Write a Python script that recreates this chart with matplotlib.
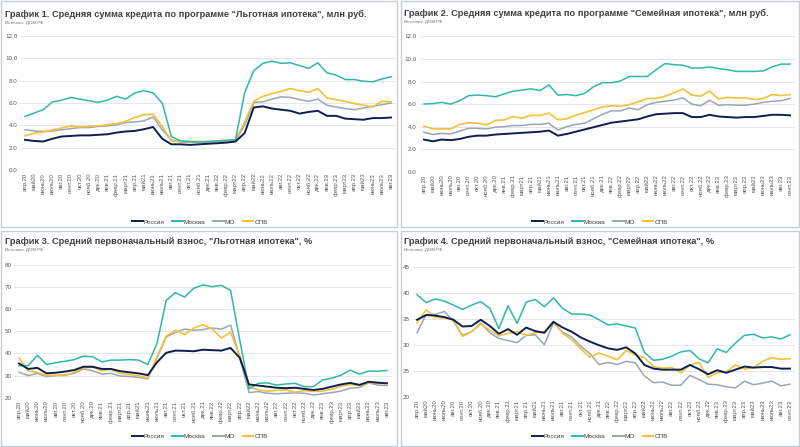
import matplotlib
matplotlib.use("Agg")
import matplotlib.pyplot as plt
from matplotlib.patches import Rectangle
from matplotlib.lines import Line2D

plt.rcParams['font.family'] = ['Liberation Sans', 'DejaVu Sans']

months_a = ["апр.20", "май20", "июнь20", "июль20", "авг.20", "сент.20", "окт.20", "нояб.20", "дек.20",
            "янв.21", "февр.21", "март21", "апр.21", "май21", "июнь21", "июль21", "авг.21", "сент.21",
            "окт.21", "нояб.21", "дек.21", "янв.22", "февр.22", "март22", "апр.22", "май22", "июнь22",
            "июль22", "авг.22", "сент.22", "окт.22", "нояб.22", "дек.22", "янв.23", "февр.23", "март23",
            "апр.23", "май23", "июнь23", "июль23", "авг.23"]
months_b = months_a + ["сент.23"]

series_names = ["Россия", "Москва", "МО", "СПБ"]
colors = ["#0f1f4f", "#2fb8aa", "#9aa6b4", "#f3c13a"]

# Chart 1: average loan, "Льготная ипотека", mln rub
c1_russia = [2.7, 2.6, 2.55, 2.8, 3.0, 3.05, 3.1, 3.1, 3.15, 3.2, 3.35, 3.45, 3.5, 3.65, 3.85, 2.8, 2.3, 2.3, 2.25, 2.3,
             2.35, 2.4, 2.45, 2.55, 3.3, 5.6, 5.7, 5.5, 5.4, 5.3, 5.05, 5.2, 5.3, 4.85, 4.85, 4.6, 4.55, 4.5, 4.65, 4.65, 4.7]
c1_moscow = [4.8, 5.1, 5.4, 6.1, 6.25, 6.5, 6.35, 6.2, 6.05, 6.25, 6.6, 6.35, 6.9, 7.1, 6.9, 6.0, 3.0, 2.6, 2.55, 2.5,
             2.55, 2.6, 2.65, 2.7, 6.9, 8.9, 9.55, 9.75, 9.55, 9.6, 9.35, 9.1, 9.6, 8.7, 8.5, 8.1, 8.1, 7.95, 7.9, 8.15, 8.35]
c1_mo = [3.6, 3.5, 3.45, 3.5, 3.6, 3.7, 3.8, 3.8, 3.9, 3.95, 4.05, 4.25, 4.3, 4.4, 4.75, 3.6, 2.7, 2.5, 2.5, 2.5,
         2.5, 2.55, 2.6, 2.65, 4.0, 6.05, 6.1, 6.35, 6.55, 6.5, 6.3, 6.15, 6.35, 5.8, 5.65, 5.5, 5.4, 5.55, 5.7, 5.85, 6.0]
c1_spb = [3.05, 3.3, 3.4, 3.6, 3.75, 3.95, 3.85, 3.9, 3.95, 4.05, 4.15, 4.35, 4.7, 4.95, 5.0, 3.9, 2.6, 2.55, 2.55, 2.55,
          2.55, 2.6, 2.65, 2.7, 4.3, 6.15, 6.6, 6.85, 7.05, 7.3, 7.1, 6.95, 7.3, 6.45, 6.3, 6.15, 5.95, 5.8, 5.65, 6.15, 6.1]

# Chart 2: average loan, "Семейная ипотека", mln rub
c2_russia = [2.85, 2.7, 2.85, 2.8, 2.9, 3.1, 3.2, 3.2, 3.3, 3.35, 3.4, 3.45, 3.5, 3.55, 3.65, 3.2, 3.35, 3.55, 3.75, 3.95,
             4.15, 4.35, 4.45, 4.55, 4.65, 4.9, 5.1, 5.15, 5.2, 5.2, 4.85, 4.85, 5.05, 4.9, 4.85, 4.8, 4.85, 4.85, 4.95,
             5.05, 5.05, 5.0]
c2_moscow = [6.0, 6.05, 6.15, 6.0, 6.3, 6.75, 6.8, 6.75, 6.65, 6.9, 7.15, 7.25, 7.35, 7.2, 7.7, 6.8, 6.85, 6.75, 6.95, 7.55,
             7.9, 7.9, 8.05, 8.45, 8.45, 8.45, 9.05, 9.6, 9.5, 9.45, 9.2, 9.2, 9.3, 9.15, 9.05, 8.9, 8.9, 8.9, 8.95,
             9.3, 9.55, 9.55]
c2_mo = [3.5, 3.3, 3.4, 3.35, 3.6, 3.85, 3.85, 3.8, 3.95, 4.0, 4.1, 4.1, 4.2, 4.2, 4.3, 3.7, 4.0, 4.2, 4.3, 4.7,
         5.1, 5.4, 5.4, 5.65, 5.5, 5.95, 6.15, 6.25, 6.35, 6.55, 6.0, 5.85, 6.35, 5.9, 5.95, 5.9, 5.9, 6.0, 6.15,
         6.25, 6.3, 6.5]
c2_spb = [4.05, 3.8, 3.8, 3.8, 4.2, 4.35, 4.3, 4.15, 4.55, 4.6, 4.9, 4.75, 5.0, 5.0, 5.2, 4.6, 4.7, 5.0, 5.25, 5.5,
          5.75, 5.85, 5.8, 5.95, 6.2, 6.5, 6.5, 6.7, 7.0, 7.35, 6.8, 6.7, 7.15, 6.45, 6.6, 6.55, 6.55, 6.4, 6.5,
          6.85, 6.75, 6.85]

# Chart 3: average down payment, "Льготная ипотека", %
c3_russia = [35.5, 33, 33.5, 31, 31.3, 31.8, 32.5, 34, 34, 33, 33, 32, 31.5, 31, 30.2, 36, 40.3, 41.3, 41.2, 41,
             41.7, 41.5, 41.3, 42.5, 38, 26, 25.5, 25, 24.5, 24.3, 24.5, 24, 23.5, 24, 25, 26, 26.7, 25.8, 27.2, 26.8, 26.5]
c3_moscow = [34.5, 34.5, 39.2, 35, 35.8, 36.5, 37.2, 38.8, 38.5, 36.2, 37, 37, 37.2, 37, 35, 44.5, 64, 67.5, 65.5, 69.5,
             71, 70.2, 70.8, 68.5, 46, 24, 26.5, 26.7, 25.7, 26.2, 26.5, 25, 25, 28, 28.8, 30.2, 32.5, 30.7, 32, 32, 32.3]
c3_mo = [31.5, 30, 31, 29.5, 30, 30.3, 31, 33, 32.2, 30.7, 31, 29.8, 29.6, 29.2, 28.5, 38, 47.5, 49.5, 51, 50.5,
         50.8, 51.5, 51, 52.8, 38, 22.3, 22.8, 22, 21.8, 22, 22.2, 22, 21.2, 21.8, 22.3, 23, 24.3, 24.6, 26.7, 25.7, 25.5]
c3_spb = [38, 32, 31.5, 30, 30.2, 30, 31.5, 33.5, 33.8, 32.2, 32.8, 31, 30.5, 30, 28.8, 38.5, 47.8, 50.5, 48.5, 51.5,
          53, 51, 47, 49.5, 39, 25, 23.5, 23, 23.3, 23.5, 22.5, 23.2, 22.8, 23, 23.8, 25.2, 26, 25.5, 26.8, 26.5, 26.5]

# Chart 4: average down payment, "Семейная ипотека", %
c4_russia = [34.8, 35.7, 35.6, 35.3, 34.8, 33.5, 33.6, 34.8, 33.6, 32.1, 33.0, 31.9, 33.3, 32.6, 32.3, 34.4, 33.3, 32.5,
             31.4, 30.6, 29.9, 29.3, 29.0, 29.5, 28.3, 26.1, 25.4, 25.2, 25.2, 25.2, 26.1, 25.3, 24.3, 25.1, 24.6, 25.2,
             25.8, 25.6, 25.7, 25.7, 25.4, 25.4]
c4_moscow = [39.6, 38.1, 38.8, 38.4, 37.6, 36.8, 37.6, 38.3, 37.0, 33.1, 37.5, 34.1, 38.2, 38.7, 37.3, 39.0, 37.0, 35.9,
             35.9, 35.7, 34.8, 33.8, 34.0, 33.6, 33.2, 28.5, 27.0, 27.2, 27.8, 28.6, 28.9, 27.3, 26.5, 29.2, 28.5, 30.3,
             31.8, 32.0, 31.3, 31.5, 31.1, 31.9]
c4_mo = [32.3, 35.8, 35.8, 36.4, 34.5, 31.8, 32.5, 34.2, 32.3, 31.2, 30.8, 30.4, 31.8, 31.9, 30.0, 34.2, 32.4, 31.5,
         29.7, 28.3, 26.2, 26.6, 26.2, 26.8, 26.5, 24.0, 22.7, 22.8, 22.2, 22.2, 24.1, 23.3, 22.4, 22.3, 21.9, 21.7,
         23.0, 22.3, 22.6, 23.0, 22.1, 22.4]
c4_spb = [34.2, 36.7, 35.3, 35.1, 34.9, 31.6, 32.5, 34.0, 32.8, 31.7, 32.2, 32.5, 31.8, 32.3, 32.5, 34.5, 32.2, 31.0,
          29.2, 27.6, 28.4, 27.8, 27.1, 28.9, 28.0, 27.5, 25.8, 25.5, 25.6, 24.6, 26.1, 26.6, 23.7, 24.6, 24.8, 26.1,
          25.3, 25.6, 26.8, 27.5, 27.2, 27.3]

W, H = 800, 447
fig = plt.figure(figsize=(W / 100, H / 100), dpi=100)
fig.patch.set_facecolor("white")

def fx(px):
    return px / W

def fy(py):
    return 1 - py / H

# panel frames
for (x0, y0, x1, y1) in [(1, 1, 397, 227), (401, 1, 799, 227), (1, 231, 397, 446), (401, 231, 799, 446)]:
    fig.patches.append(Rectangle((fx(x0), fy(y1)), fx(x1 - x0), (y1 - y0) / H, transform=fig.transFigure,
                                 fill=False, edgecolor="#c9ced6", linewidth=1.0))

panels = [
    dict(data=[c1_russia, c1_moscow, c1_mo, c1_spb], labels=months_a, box=(20.4, 36, 395.6, 170),
         ylim=(0, 12), yticks=[0, 2, 4, 6, 8, 10, 12], fmt="{:.1f}",
         title='График 1. Средняя сумма кредита по программе "Льготная ипотека", млн руб.',
         src="Источник: ДОМ.РФ", tpos=(5, 14.5, 23), leg=(200, 222)),
    dict(data=[c2_russia, c2_moscow, c2_mo, c2_spb], labels=months_b, box=(419.5, 36.5, 794.5, 171.7),
         ylim=(0, 12), yticks=[0, 2, 4, 6, 8, 10, 12], fmt="{:.1f}",
         title='График 2. Средняя сумма кредита по программе "Семейная ипотека", млн руб.',
         src="Источник: ДОМ.РФ", tpos=(404, 13.5, 22.5), leg=(600, 222)),
    dict(data=[c3_russia, c3_moscow, c3_mo, c3_spb], labels=months_a, box=(14.4, 265, 391.6, 397.7),
         ylim=(20, 80), yticks=[20, 30, 40, 50, 60, 70, 80], fmt="{:.0f}",
         title='График 3. Средний первоначальный взнос, "Льготная ипотека", %',
         src="Источник: ДОМ РФ", tpos=(5, 241.5, 249.5), leg=(200, 436)),
    dict(data=[c4_russia, c4_moscow, c4_mo, c4_spb], labels=months_b, box=(412.5, 266.7, 794.5, 396.7),
         ylim=(20, 45), yticks=[20, 25, 30, 35, 40, 45], fmt="{:.0f}",
         title='График 4. Средний первоначальный взнос, "Семейная ипотека", %',
         src="Источник: ДОМ РФ", tpos=(404, 241.5, 249.5), leg=(600, 436)),
]

tick_color = "#595959"
for p in panels:
    x0, y0, x1, y1 = p["box"]
    ax = fig.add_axes([fx(x0), fy(y1), fx(x1 - x0), (y1 - y0) / H])
    n = len(p["labels"])
    xs = list(range(n))
    order = [2, 3, 1, 0]
    lws = [1.4, 1.1, 1.1, 1.2]
    for i in order:
        ax.plot(xs, p["data"][i], color=colors[i], linewidth=lws[i], solid_joinstyle="round", zorder=3 + (i == 0))
    ax.set_xlim(-0.5, n - 0.5)
    ax.set_ylim(*p["ylim"])
    ax.set_yticks(p["yticks"])
    ax.set_yticklabels([p["fmt"].format(v) for v in p["yticks"]], fontsize=4.5, color=tick_color)
    ax.set_xticks(xs)
    ax.set_xticklabels(p["labels"], rotation=90, fontsize=4.3, color=tick_color)
    ax.tick_params(length=0, pad=2)
    for s in ax.spines.values():
        s.set_visible(False)
    ax.grid(axis="y", color="#e4e6ea", linewidth=0.7)
    ax.set_axisbelow(True)
    ax.set_facecolor("none")
    tx, ty, sy = p["tpos"]
    fig.text(fx(tx), fy(ty), p["title"], fontsize=6.7, fontweight="bold", color="#404040", va="center", ha="left")
    fig.text(fx(tx), fy(sy), p["src"], fontsize=3.2, color="#707070", va="center", ha="left")
    handles = [Line2D([0], [0], color=colors[i], linewidth=1.4) for i in range(4)]
    lx, ly = p["leg"]
    fig.legend(handles, series_names, loc="center", bbox_to_anchor=(fx(lx), fy(ly)), ncol=4, frameon=False,
               fontsize=4.6, handlelength=1.6, handletextpad=0.2, columnspacing=1.2, labelcolor="#404040")

fig.savefig("out.png", dpi=100)
